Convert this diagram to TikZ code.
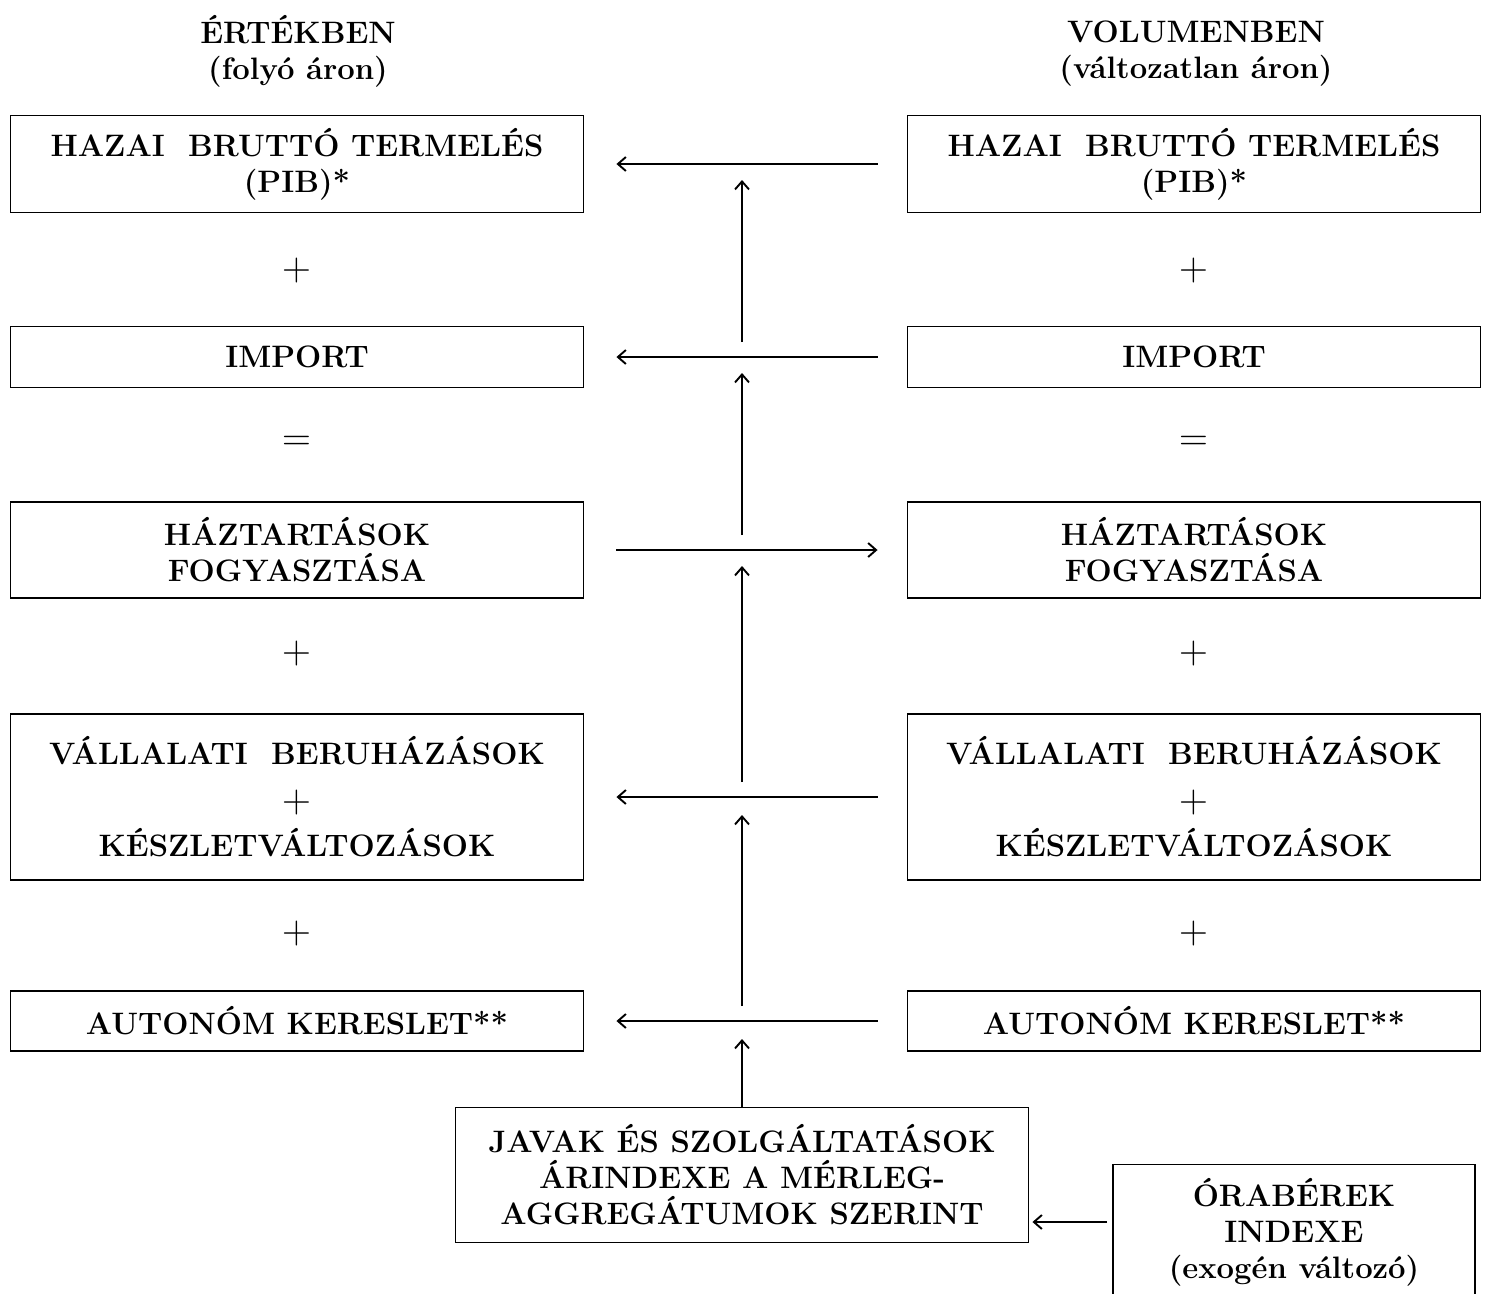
\documentclass[tikz,border=0pt]{standalone}
\usepackage{tikz}
\usetikzlibrary{arrows.meta}

\begin{document}
\begin{tikzpicture}[x=1pt, y=-1pt, line width=1.9pt, >={Straight Barb[length=8pt,width=14pt]},
    every node/.style={font=\fontsize{31}{36}\selectfont\bfseries, align=center},
    box/.style={draw, minimum width=573pt, inner sep=0pt},
    sign/.style={font=\fontsize{40}{40}\selectfont\mdseries}]
  \useasboundingbox (0,0) rectangle (1490,1293);
  % column headings
  \node (hl) at (298,51) {ÉRTÉKBEN\\(folyó áron)};
  \node (hr) at (1196,54) {VOLUMENBEN\\(változatlan áron)};
  % value side
  \node[box, minimum height=97pt] (e1) at (297,164) {HAZAI\ \ BRUTTÓ TERMELÉS\\(PIB)*};
  \node[sign] (ep1) at (297,271) {+};
  \node[box, minimum height=61pt] (e2) at (297,357) {IMPORT};
  \node[sign] (eq) at (297,443) {=};
  \node[box, minimum height=96pt] (e3) at (297,550) {HÁZTARTÁSOK\\FOGYASZTÁSA};
  \node[sign] (ep2) at (297,654) {+};
  \node[box, minimum height=166pt] (e4) at (297,797) {VÁLLALATI\ \ BERUHÁZÁSOK\\[12pt]{\fontsize{40}{40}\selectfont\mdseries +}\\[8pt]KÉSZLETVÁLTOZÁSOK};
  \node[sign] (ep3) at (297,934) {+};
  \node[box, minimum height=60pt] (e5) at (297,1021) {AUTONÓM KERESLET**};
  % volume side
  \node[box, minimum height=97pt] (v1) at (1194,164) {HAZAI\ \ BRUTTÓ TERMELÉS\\(PIB)*};
  \node[sign] (vp1) at (1194,271) {+};
  \node[box, minimum height=61pt] (v2) at (1194,357) {IMPORT};
  \node[sign] (vq) at (1194,443) {=};
  \node[box, minimum height=96pt] (v3) at (1194,550) {HÁZTARTÁSOK\\FOGYASZTÁSA};
  \node[sign] (vp2) at (1194,654) {+};
  \node[box, minimum height=166pt] (v4) at (1194,797) {VÁLLALATI\ \ BERUHÁZÁSOK\\[12pt]{\fontsize{40}{40}\selectfont\mdseries +}\\[8pt]KÉSZLETVÁLTOZÁSOK};
  \node[sign] (vp3) at (1194,934) {+};
  \node[box, minimum height=60pt] (v5) at (1194,1021) {AUTONÓM KERESLET**};
  % price indices
  \node[box, minimum height=135pt] (jav) at (742,1175) {JAVAK ÉS SZOLGÁLTATÁSOK\\ÁRINDEXE A MÉRLEG-\\AGGREGÁTUMOK SZERINT};
  \node[box, minimum width=362pt, minimum height=135pt] (ora) at (1294,1232) {ÓRABÉREK\\INDEXE\\(exogén változó)};
  % horizontal links
  \draw[->, shorten <=29pt, shorten >=32pt] (v1.west) -- (e1.east);
  \draw[->, shorten <=29pt, shorten >=32pt] (v2.west) -- (e2.east);
  \draw[->, shorten <=32pt, shorten >=29pt] (e3.east) -- (v3.west);
  \draw[->, shorten <=29pt, shorten >=32pt] (v4.west) -- (e4.east);
  \draw[->, shorten <=29pt, shorten >=32pt] (v5.west) -- (e5.east);
  % vertical chain
  \coordinate (a1) at (jav.north |- e1.east);
  \coordinate (a2) at (jav.north |- e2.east);
  \coordinate (a3) at (jav.north |- e3.east);
  \coordinate (a4) at (jav.north |- e4.east);
  \coordinate (a5) at (jav.north |- e5.east);
  \draw[->, shorten >=18pt] (jav.north) -- (a5);
  \draw[->, shorten <=15pt, shorten >=18pt] (a5) -- (a4);
  \draw[->, shorten <=15pt, shorten >=16pt] (a4) -- (a3);
  \draw[->, shorten <=15pt, shorten >=16pt] (a3) -- (a2);
  \draw[->, shorten <=15pt, shorten >=16pt] (a2) -- (a1);
  \draw[->, shorten <=5pt, shorten >=3pt] ([yshift=10pt]ora.west) -- ([yshift=10pt]ora.west -| jav.east);
\end{tikzpicture}
\end{document}
